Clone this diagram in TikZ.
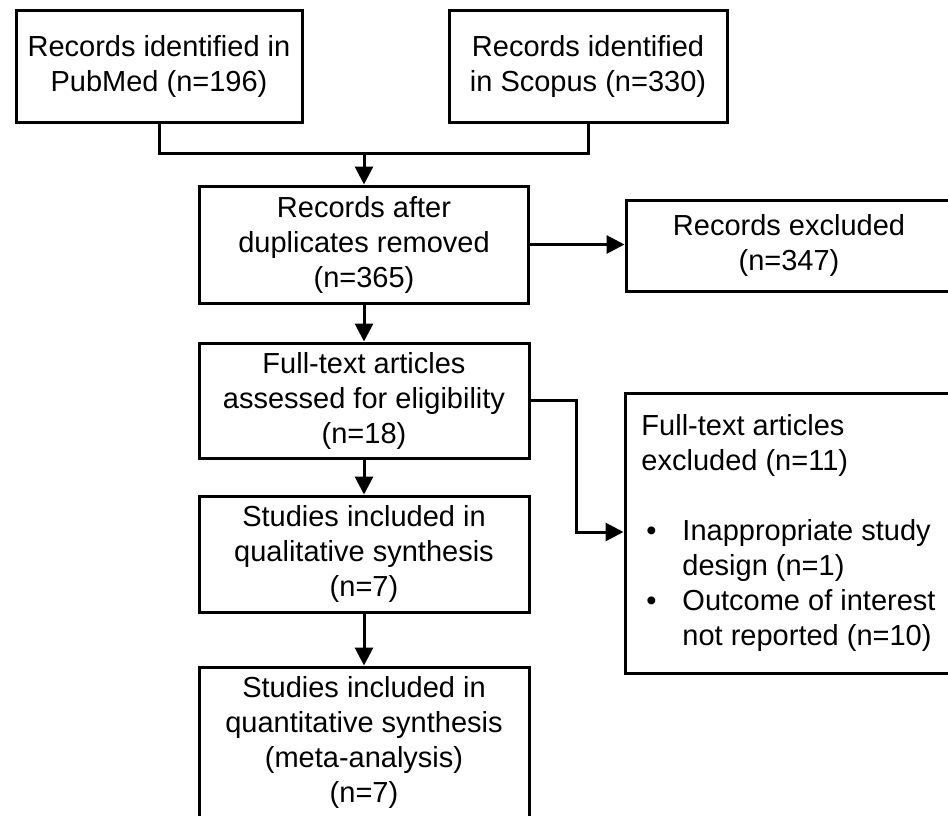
\documentclass[tikz,border=0pt]{standalone}
\usepackage{fontspec}
\setmainfont{Liberation Sans}
\usepackage{tikz}
\usetikzlibrary{arrows.meta, positioning, calc}

\newcommand{\flowfont}{\fontsize{29}{35}\selectfont}
\newcommand{\itembullet}{\makebox[41pt][l]{\hspace{5pt}\textbullet}}

\tikzset{
  stagebox/.style={draw=black, line width=3pt, rectangle, align=center, inner sep=0pt, font=\flowfont},
  flowarrow/.style={line width=3pt, -{Triangle[length=18pt, width=18pt]}},
  flowline/.style={line width=3pt}
}

\begin{document}
\begin{tikzpicture}[x=1pt, y=-1pt]
  \useasboundingbox (0,0) rectangle (948,816);

  % Sources
  \node[stagebox, minimum width=286pt, minimum height=111pt] (pubmed) at (159, 66.5) {Records identified in\\PubMed (n=196)};
  \node[stagebox, minimum width=278pt, minimum height=111pt] (scopus) at (588, 66.5) {Records identified\\in Scopus (n=330)};
  \coordinate (join) at (364, 153);

  % Screening
  \node[stagebox, minimum width=329pt, minimum height=117pt] (dedup) at (364, 244.5) {Records after\\duplicates removed\\(n=365)};
  \node[stagebox, minimum width=326pt, minimum height=91pt] (excl) at (789, 245.5) {Records excluded\\(n=347)};

  % Eligibility
  \node[stagebox, minimum width=330pt, minimum height=115pt] (fulltext) at (364, 400.5) {Full-text articles\\assessed for eligibility\\(n=18)};
  \node[stagebox, minimum width=327pt, minimum height=280pt, align=left] (ftexcl) at (788.5, 533) {Full-text articles\\excluded (n=11)\\[35pt]
    \itembullet Inappropriate study\\
    \hspace*{41pt}design (n=1)\\
    \itembullet Outcome of interest\\
    \hspace*{41pt}not reported (n=10)};
  \coordinate (bend) at (576, 532);

  % Included
  \node[stagebox, minimum width=330pt, minimum height=116pt] (qual) at (364, 554) {Studies included in\\qualitative synthesis\\(n=7)};
  \node[stagebox, minimum width=330pt, minimum height=151pt] (quant) at (364, 742.5) {Studies included in\\quantitative synthesis\\(meta-analysis)\\(n=7)};

  % Connectors
  \draw[flowline] (pubmed.south) |- (join) -| (scopus.south);
  \draw[flowarrow] (join) -- (dedup.north);
  \draw[flowarrow] (dedup.east) -- (dedup.east -| excl.west);
  \draw[flowarrow] (dedup.south) -- (fulltext.north);
  \draw[flowarrow] (fulltext.east) -| (bend) -- (bend -| ftexcl.west);
  \draw[flowarrow] (fulltext.south) -- (qual.north);
  \draw[flowarrow] (qual.south) -- (quant.north);
\end{tikzpicture}
\end{document}
